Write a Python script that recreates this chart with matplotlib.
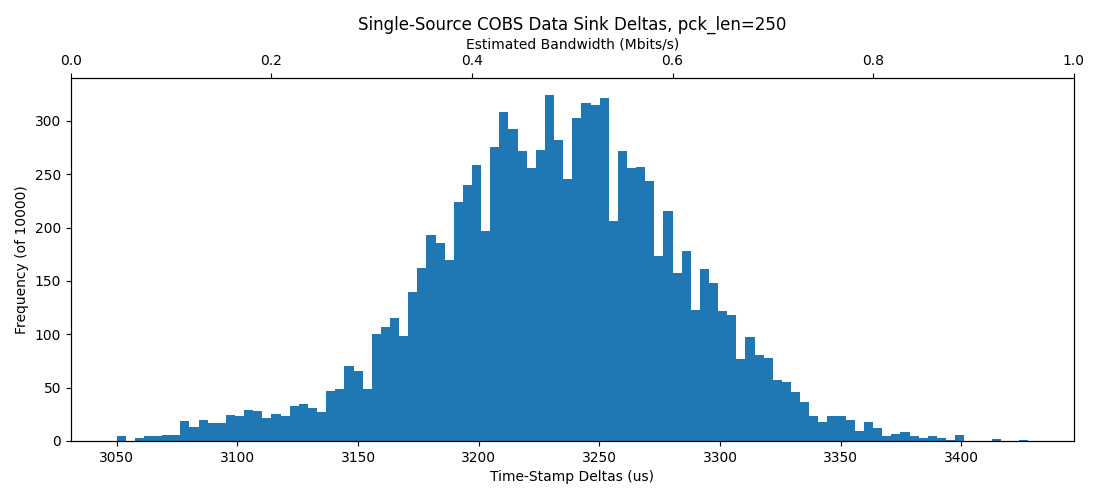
import numpy as np
import matplotlib
matplotlib.use("Agg")
import matplotlib.pyplot as plt

# histogram: 100 equal bins between the min and max delta
bin_lo = 3049.9
bin_hi = 3427.6
counts = [5, 0, 3, 5, 5, 6, 6, 19, 13, 20,
          17, 17, 24, 23, 29, 28, 22, 25, 23, 33,
          35, 31, 27, 47, 49, 70, 66, 49, 100, 107,
          115, 98, 140, 162, 193, 186, 170, 224, 240, 259,
          197, 276, 308, 292, 272, 256, 273, 324, 282, 246,
          303, 317, 315, 321, 206, 272, 256, 257, 244, 173,
          216, 157, 178, 123, 161, 148, 122, 118, 77, 97,
          81, 78, 57, 55, 46, 37, 23, 18, 23, 23,
          20, 9, 18, 12, 5, 7, 8, 5, 3, 5,
          3, 1, 6, 0, 0, 0, 2, 0, 0, 1]

edges = np.linspace(bin_lo, bin_hi, len(counts) + 1)

fig, ax = plt.subplots(figsize=(11, 5), dpi=100)
fig.subplots_adjust(left=0.0645, right=0.976, bottom=0.118, top=0.844)

ax.hist(edges[:-1], bins=edges, weights=counts, color="#1f77b4")
ax.set_xlabel("Time-Stamp Deltas (us)")
ax.set_ylabel("Frequency (of 10000)")

ax2 = ax.twiny()
ax2.set_xlabel("Estimated Bandwidth (Mbits/s)")
ax2.set_title("Single-Source COBS Data Sink Deltas, pck_len=250", fontsize=12)

fig.savefig("out.png")
